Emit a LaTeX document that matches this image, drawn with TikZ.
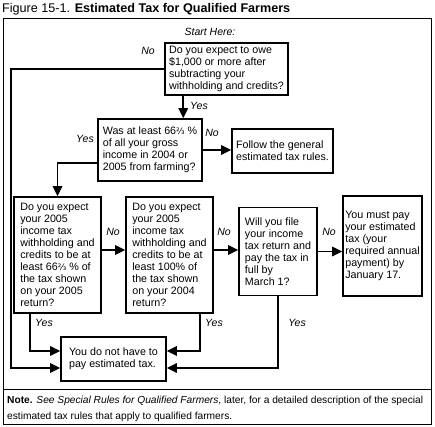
\documentclass[tikz,border=0pt]{standalone}
\usepackage{fontspec}
\setmainfont{Liberation Sans}
\newfontfamily\fracfont{DejaVu Sans}
\usetikzlibrary{arrows.meta}
\newcommand{\twothirds}{{\fracfont\fontsize{8.8}{10}\selectfont ⅔}}

\begin{document}
\begin{tikzpicture}[x=1pt, y=-1pt, font=\fontsize{10.7}{12}\selectfont,
    box/.style={draw, line width=1.6pt, align=left, inner sep=0pt},
    arr/.style={line width=1.6pt, -{Triangle[length=10pt,width=9.5pt]}},
    lbl/.style={font=\fontsize{10.5}{12}\selectfont\itshape}]
    \useasboundingbox (0,0) rectangle (435,426);

    % Title and frame
    \node[anchor=base west, inner sep=0pt, font=\fontsize{12.6}{14}\selectfont] (Title) at (2,12)
        {Figure 15-1. \textbf{Estimated Tax for Qualified Farmers}};
    \draw[line width=0.8pt] (3,18) rectangle (431,424);
    \draw[line width=0.8pt] (3,389) -- (431,389);

    % Question boxes
    \node[lbl] (Start) at (210,32) {Start Here:};
    \node[box, minimum width=123, minimum height=52] (Owe) at (226.5,69)
        {Do you expect to owe\\ \$1,000 or more after\\ subtracting your\\ withholding and credits?};
    \node[box, minimum width=104, minimum height=62] (Farming) at (150,150)
        {Was at least 66\twothirds\ \%\\ of all your gross\\ income in 2004 or\\ 2005 from farming?};
    \node[box, minimum width=101, minimum height=44] (General) at (282.5,151)
        {Follow the general\\ estimated tax rules.};
    \node[box, minimum width=87, minimum height=116] (Expect) at (57.5,255)
        {Do you expect\\ your 2005\\ income tax\\ withholding and\\ credits to be at\\ least 66\twothirds\ \% of\\ the tax shown\\ on your 2005\\ return?};
    \node[box, minimum width=87, minimum height=116] (Prior) at (169.5,255)
        {Do you expect\\ your 2005\\ income tax\\ withholding and\\ credits to be at\\ least 100\% of\\ the tax shown\\ on your 2004\\ return?};
    \node[box, minimum width=78, minimum height=88] (File) at (278,251.5)
        {Will you file\\ your income\\ tax return and\\ pay the tax in\\ full by\\ March 1?};
    \node[box, minimum width=79, minimum height=100] (Pay) at (382.5,246)
        {You must pay\\ your estimated\\ tax (your\\ required annual\\ payment) by\\ January 17.};
    \node[box, minimum width=105, minimum height=44] (NoTax) at (113.5,359)
        {You do not have to\\ pay estimated tax.};

    % Bend points of the connectors
    \coordinate (Rail) at (11,69);
    \coordinate (OweYes) at ([xshift=19pt]Owe.south west);
    \coordinate (FarmYes) at ([yshift=-13pt]Farming.west);
    \coordinate (ExpNo) at ([yshift=5pt]Expect.east);
    \coordinate (PriNo) at ([yshift=5pt]Prior.east);
    \coordinate (ExpYes) at ([xshift=17pt]Expect.south west);
    \coordinate (PriYes) at ([xshift=-14pt]Prior.south east);

    % Connectors
    \draw[arr] (OweYes) -- (OweYes |- Farming.north);
    \draw[arr] (Owe.west) -- (Rail) |- ([yshift=-9pt]NoTax.west);
    \draw[arr] (Farming.east) -- (Farming.east -| General.west);
    \draw[arr] (FarmYes) -| (Expect.north);
    \draw[arr] (ExpNo) -- (ExpNo -| Prior.west);
    \draw[arr] (PriNo) -- (PriNo -| File.west);
    \draw[arr] (File.east) -- (File.east -| Pay.west);
    \draw[arr] (ExpYes) |- ([yshift=8pt]NoTax.west);
    \draw[arr] (PriYes) |- ([yshift=8pt]NoTax.east);
    \draw[arr] (File.south) |- ([yshift=-9pt]NoTax.east);

    % Yes / No labels
    \node[lbl] (NoA) at (148,51) {No};
    \node[lbl] (YesA) at (199,106) {Yes};
    \node[lbl] (YesB) at (85,139) {Yes};
    \node[lbl] (NoB) at (212,133) {No};
    \node[lbl] (NoC) at (113,232) {No};
    \node[lbl] (NoD) at (224,232) {No};
    \node[lbl] (NoE) at (329,232) {No};
    \node[lbl] (YesC) at (44,323) {Yes};
    \node[lbl] (YesD) at (214,323) {Yes};
    \node[lbl] (YesE) at (297,323) {Yes};

    % Note under the chart
    \node[anchor=north west, align=left, inner sep=0pt, font=\fontsize{10.2}{16}\selectfont] (Note) at (7,395.5)
        {\textbf{Note.} \textit{See Special Rules for Qualified Farmers}, later, for a detailed description of the special\\ estimated tax rules that apply to qualified farmers.};
\end{tikzpicture}
\end{document}
